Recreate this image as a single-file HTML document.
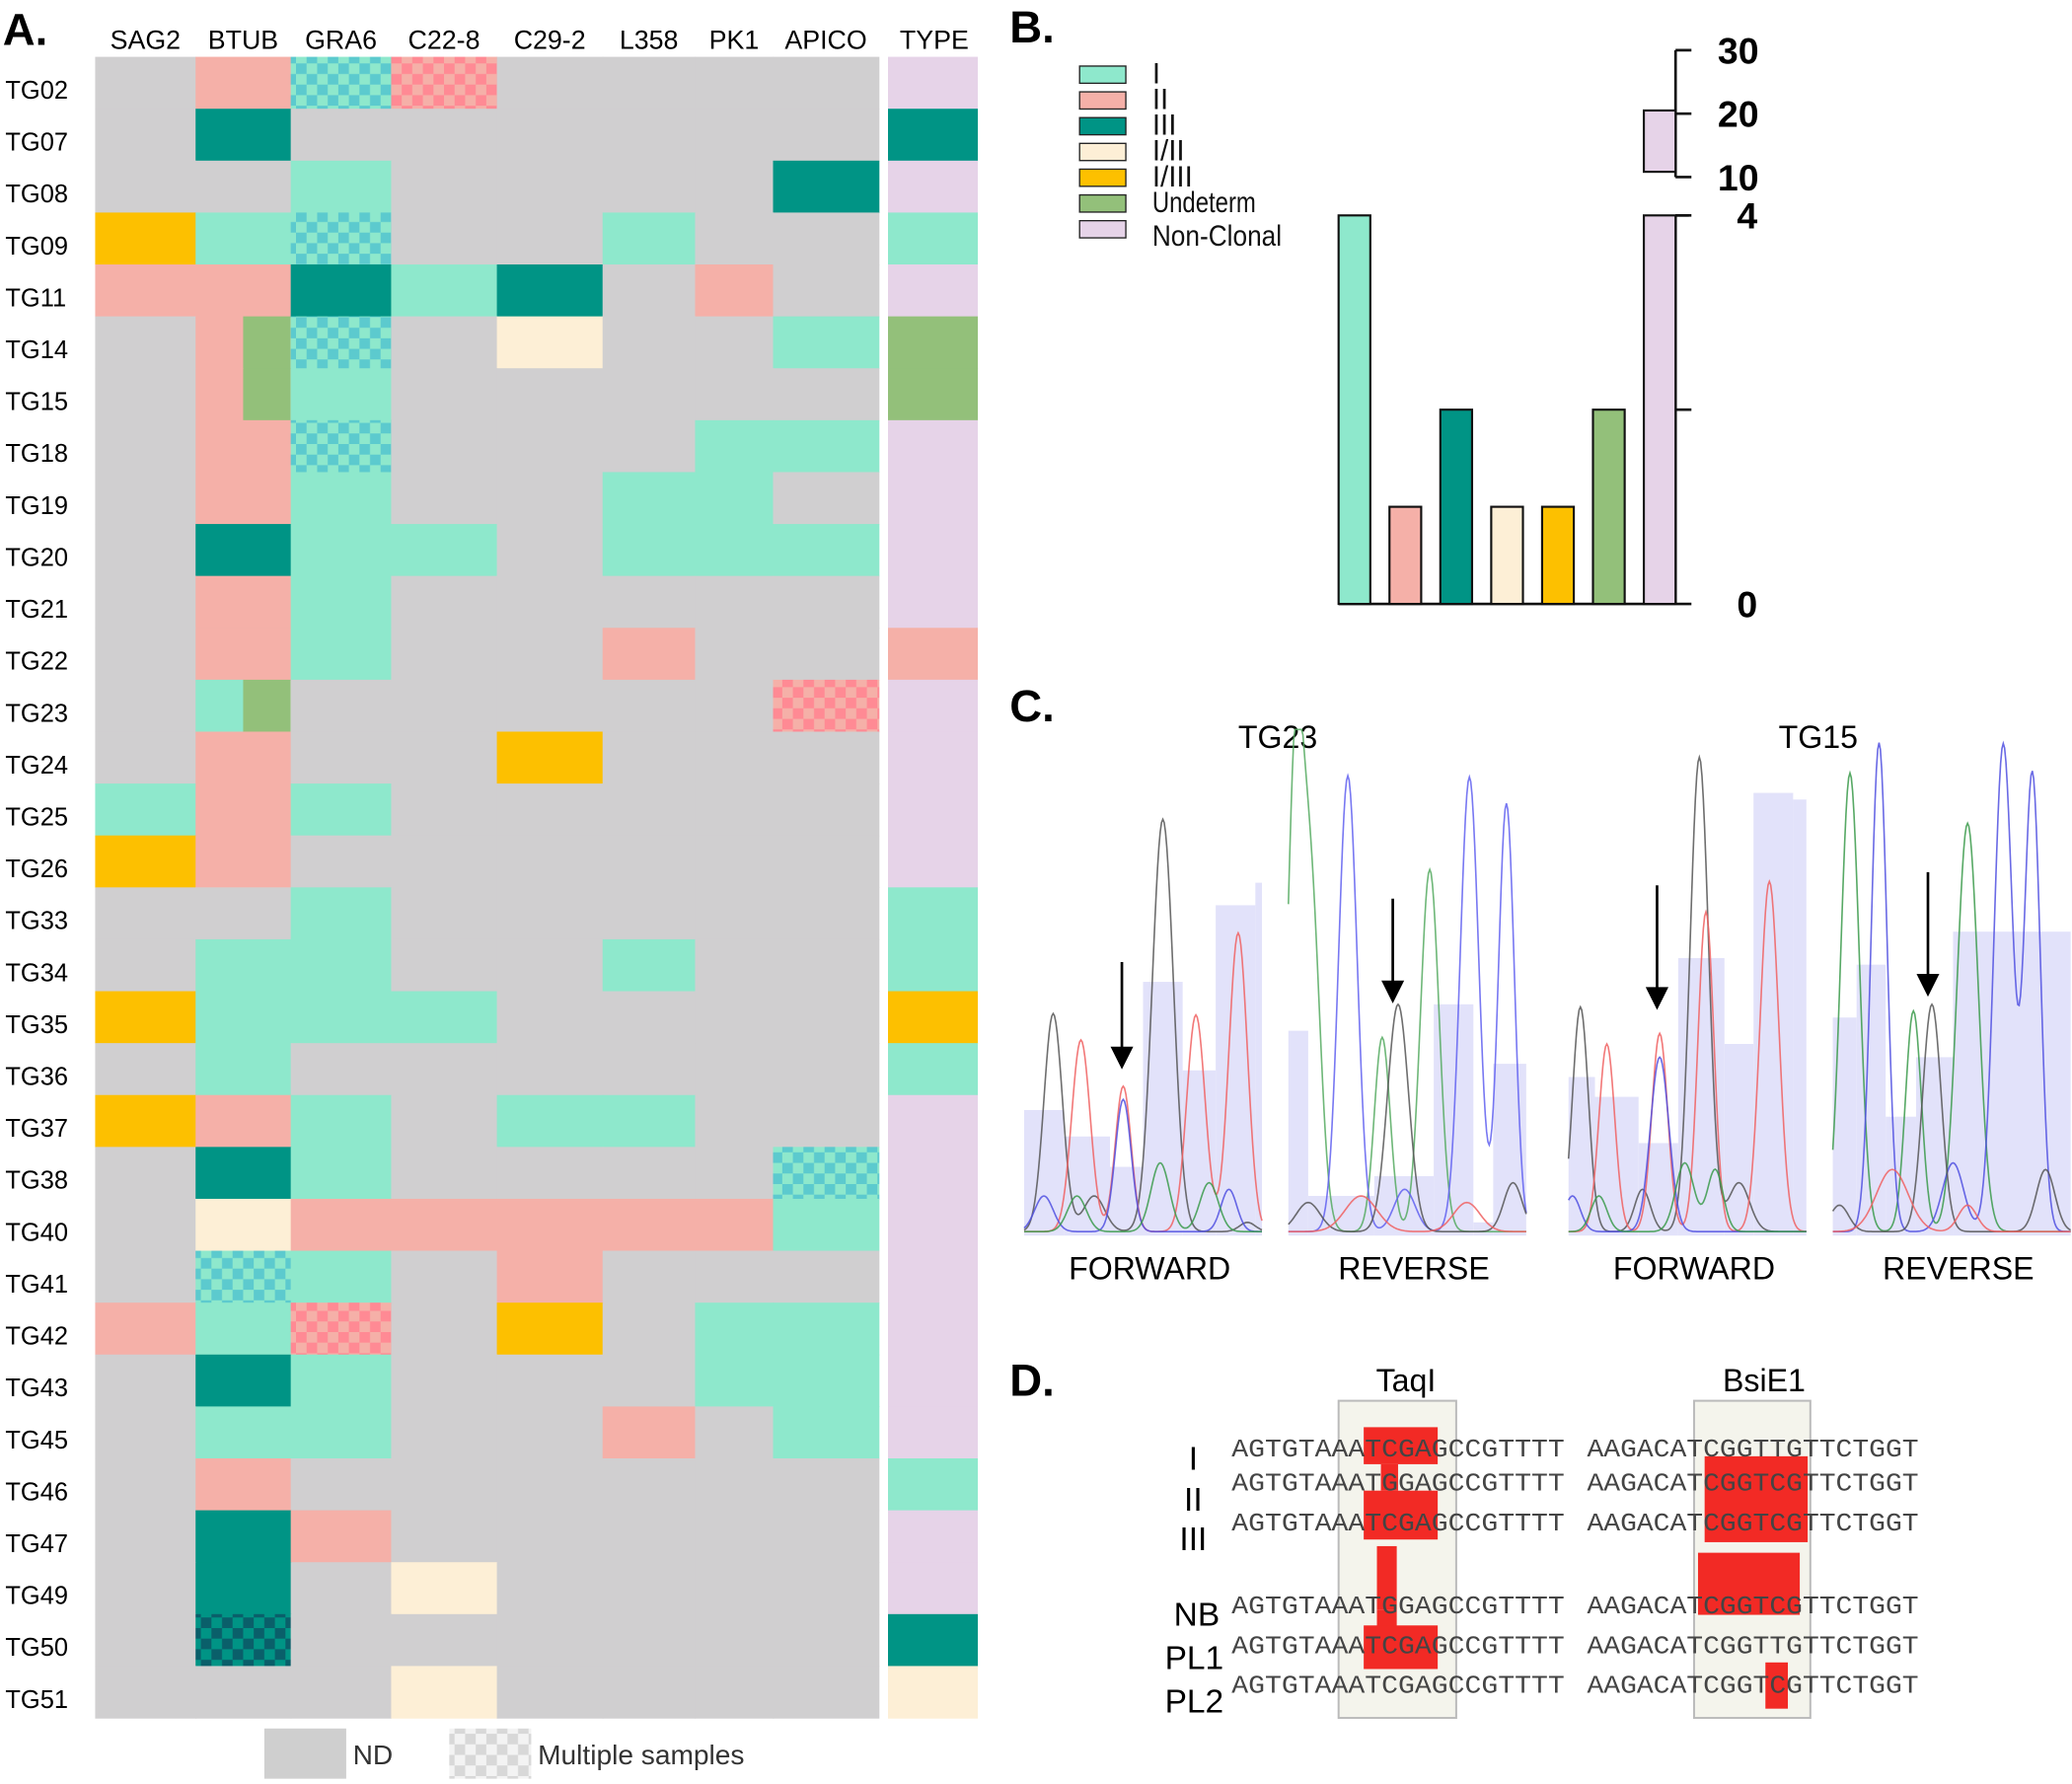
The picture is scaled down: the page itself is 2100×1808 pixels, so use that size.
<!DOCTYPE html>
<html><head><meta charset="utf-8"><style>
html,body{margin:0;padding:0;background:#fff;}
svg{display:block;}
text{font-family:"Liberation Sans",sans-serif;}
.mono{font-family:"Liberation Mono","DejaVu Sans Mono",monospace;fill:#444;}
</style></head><body>
<svg id="fig" width="2100" height="1808" viewBox="0 0 1568 1350" xmlns="http://www.w3.org/2000/svg">
<defs>
<pattern id="ck1" width="16" height="16" patternUnits="userSpaceOnUse"><rect width="16" height="16" fill="#8ee8cc"/><rect width="8" height="8" fill="#5ccace"/><rect x="8" y="8" width="8" height="8" fill="#5ccace"/></pattern>
<pattern id="ck2" width="16" height="16" patternUnits="userSpaceOnUse"><rect width="16" height="16" fill="#f5b0a8"/><rect width="8" height="8" fill="#ff8a94"/><rect x="8" y="8" width="8" height="8" fill="#ff8a94"/></pattern>
<pattern id="ck3" width="16" height="16" patternUnits="userSpaceOnUse"><rect width="16" height="16" fill="#009485"/><rect width="8" height="8" fill="#0a5f6a"/><rect x="8" y="8" width="8" height="8" fill="#0a5f6a"/></pattern>
<pattern id="ckg" width="16" height="16" patternUnits="userSpaceOnUse"><rect width="16" height="16" fill="#f3f3f3"/><rect width="8" height="8" fill="#d8d8d8"/><rect x="8" y="8" width="8" height="8" fill="#d8d8d8"/></pattern>
</defs>
<g id="panelA"></g>
<g id="panelB"></g>
<g id="panelC"></g>
<g id="panelD"></g>
</svg>
<script>
const loci=["SAG2","BTUB","GRA6","C22-8","C29-2","L358","PK1","APICO"];
const samples=["TG02","TG07","TG08","TG09","TG11","TG14","TG15","TG18","TG19","TG20","TG21","TG22","TG23","TG24","TG25","TG26","TG33","TG34","TG35","TG36","TG37","TG38","TG40","TG41","TG42","TG43","TG45","TG46","TG47","TG49","TG50","TG51"];
const genotypes=[
"g 2 c1 c2 g g g g","g 3 g g g g g g","g g 1 g g g g 3","5 1 c1 g g 1 g g","2 2 3 1 3 g 2 g",
"g 2u c1 g 4 g g 1","g 2u 1 g g g g g","g 2 c1 g g g 1 1","g 2 1 g g 1 1 g","g 3 1 1 g 1 1 1",
"g 2 1 g g g g g","g 2 1 g g 2 g g","g 1u g g g g g c2","g 2 g g 5 g g g","1 2 1 g g g g g",
"5 2 g g g g g g","g g 1 g g g g g","g 1 1 g g 1 g g","5 1 1 1 g g g g","g 1 g g g g g g",
"5 2 1 g 1 1 g g","g 3 1 g g g g c1","g 4 2 2 2 2 2 1","g c1 1 g 2 g g g","2 1 c2 g 5 g 1 1",
"g 3 1 g g g 1 1","g 1 1 g g 2 g 1","g 2 g g g g g g","g 3 2 g g g g g","g 3 g 4 g g g g",
"g c3 g g g g g g","g g g 4 g g g g"];
const types=["n","3","n","1","n","u","u","n","n","n","n","2","n","n","n","n","1","1","5","1","n","n","n","n","n","n","n","1","n","n","3","4"];
const typeCats=["I","II","III","I/II","I/III","Undeterm","Non-Clonal"];
const typeCounts=[4,1,2,1,1,2,20.5];
const yTicksLow=[0,2,4];
const yTicksHigh=[10,20,30];
const yTickLabelsLow=["0","","4"];

const NS="http://www.w3.org/2000/svg";
function el(tag,attrs,parent,txt){const e=document.createElementNS(NS,tag);for(const k in attrs)e.setAttribute(k,attrs[k]);if(txt!==undefined)e.textContent=txt;parent.appendChild(e);return e;}
const col={g:"#d0cfd0","1":"#8ee8cc","2":"#f5b0a8","3":"#009485","4":"#fdefd6","5":"#fdc000",u:"#93c07a",n:"#e6d3e8",c1:"url(#ck1)",c2:"url(#ck2)",c3:"url(#ck3)"};

// Panel A
const A=document.getElementById("panelA");
const colX=[72,148,220,296,376,456,526,585,665];
const rowTop=43,rowH=(1300-43)/samples.length;
function rowY(i){return rowTop+i*rowH;}
let t=el("text",{x:2,y:34,"font-size":34,"font-weight":"bold"},A,"A.");

loci.forEach((l,j)=>{const h=el("text",{x:(colX[j]+colX[j+1])/2,y:37,"font-size":20,"text-anchor":"middle"},A,l);
});
let th=el("text",{x:707,y:37,"font-size":20,"text-anchor":"middle"},A,"TYPE");

samples.forEach((s,i)=>{
 const y=rowY(i);
 const lb=el("text",{x:4,y:y+rowH/2+12,"font-size":19},A,s);
 
 genotypes[i].split(" ").forEach((c,j)=>{
  const x0=colX[j],w=colX[j+1]-colX[j];
  if(c.endsWith("u")){
   const r1=el("rect",{x:x0,y:y,width:w/2+0.5,height:rowH+0.5,fill:col[c[0]]},A);
   
   const r2=el("rect",{x:x0+w/2,y:y,width:w/2,height:rowH+0.5,fill:col.u},A);
   
  } else {
   const r=el("rect",{x:x0,y:y,width:w+0.5,height:rowH+0.5,fill:col[c]},A);
   
  }
 });
 const tr=el("rect",{x:672,y:y,width:68,height:rowH+0.5,fill:col[types[i]]},A);
 
});
let r=el("rect",{x:200,y:1308,width:62,height:38,fill:"#cfcfcf"},A);

t=el("text",{x:267,y:1335,"font-size":21,fill:"#333"},A,"ND");

r=el("rect",{x:340,y:1308,width:62,height:38,fill:"url(#ckg)"},A);

t=el("text",{x:407,y:1335,"font-size":21,fill:"#333"},A,"Multiple samples");


// Panel B
const B=document.getElementById("panelB");
t=el("text",{x:764,y:32,"font-size":34,"font-weight":"bold"},B,"B.");

const legCols=["#8ee8cc","#f5b0a8","#009485","#fdefd6","#fdc000","#93c07a","#e6d3e8"];
typeCats.forEach((c,i)=>{
 const y=50+i*19.5;
 const s=el("rect",{x:817,y:y,width:35,height:13,fill:legCols[i],stroke:"#222","stroke-width":1},B);
 
 const l=el("text",{x:872,y:y+13+(i==6?6:0),"font-size":22,fill:"#111"},B,c);
 if(c.length>5){l.setAttribute("textLength",c.length*9.8);l.setAttribute("lengthAdjust","spacingAndGlyphs");}
 
});
const y0=457,y4=163;
function yLow(v){return y0-(y0-y4)*v/4;}
function yHigh(v){return 134-(v-10)*(134-38)/20;}
const axX=1268;
let ax=el("path",{d:`M${axX} ${y4} V${y0} M${axX} ${y4} H${axX+10} M${axX} 38 V134`,stroke:"#111","stroke-width":2,fill:"none"},B);

let bl=el("line",{x1:1013,x2:axX,y1:y0,y2:y0,stroke:"#111","stroke-width":2},B);

yTicksLow.forEach((v,i)=>{const y=yLow(v);
 const k=el("line",{x1:axX,x2:axX+12,y1:y,y2:y,stroke:"#111","stroke-width":2},B);
 
 if(yTickLabelsLow[i]){const l=el("text",{x:axX+62,y:y+10,"font-size":28,"font-weight":"bold","text-anchor":"end"},B,yTickLabelsLow[i]);
 }
});
yTicksHigh.forEach(v=>{const y=yHigh(v);
 const k=el("line",{x1:axX,x2:axX+12,y1:y,y2:y,stroke:"#111","stroke-width":2},B);
 
 const l=el("text",{x:axX+63,y:y+10,"font-size":28,"font-weight":"bold","text-anchor":"end"},B,String(v));
 
});
typeCounts.forEach((v,i)=>{
 const x=1013+i*38.5;
 if(v<=4){
  const b=el("rect",{x:x,y:yLow(v),width:24,height:y0-yLow(v),fill:legCols[i],stroke:"#111","stroke-width":1.6},B);
  
 } else {
  const b=el("rect",{x:x,y:y4,width:24,height:y0-y4,fill:legCols[i],stroke:"#111","stroke-width":1.6},B);
  
  const b2=el("rect",{x:x,y:yHigh(v),width:24,height:yHigh(10)-4-yHigh(v),fill:legCols[i],stroke:"#111","stroke-width":1.6},B);
  
 }
});

// Panel C
const C=document.getElementById("panelC");
t=el("text",{x:764,y:546,"font-size":34,"font-weight":"bold"},C,"C.");

[["TG23",967],["TG15",1376]].forEach(([s,x])=>{const l=el("text",{x:x,y:566,"font-size":24,"text-anchor":"middle"},C,s);
 });
const panels=[
 {x0:775,x1:955,lab:"FORWARD",arrow:[849,728,805],
  blocks:[[775,840],[805,860],[840,883],[865,743],[895,810],[920,685],[950,668]],
  peaks:{"#555":[[797,767,7],[880,620,8],[828,905,8],[944,925,6]],"#f06060":[[818,787,7],[850,822,6],[905,768,7],[937,706,7]],"#5050e0":[[790,905,7],[850,832,6],[930,900,6]],"#3a9a4a":[[815,905,7],[878,880,7],[915,895,7]]}},
 {x0:975,x1:1155,lab:"REVERSE",arrow:[1054,680,755],
  blocks:[[975,780],[990,905],[1040,890],[1085,760],[1115,925],[1130,805]],
  peaks:{"#55aa60":[[980,600,6],[992,680,7],[1082,658,7],[1046,785,6]],"#6060f0":[[1020,587,7],[1112,588,7],[1140,608,6],[1063,900,8]],"#555":[[1058,760,8],[1145,895,7],[990,910,9]],"#f06060":[[1030,905,12],[1110,910,10]]}},
 {x0:1187,x1:1367,lab:"FORWARD",arrow:[1254,670,760],
  blocks:[[1187,815],[1207,830],[1240,865],[1270,725],[1305,790],[1327,600],[1357,605]],
  peaks:{"#555":[[1196,762,6],[1243,900,6],[1286,573,7],[1316,895,8]],"#f06060":[[1216,790,6],[1256,782,6],[1291,690,6],[1339,667,7]],"#5050e0":[[1190,905,6],[1256,800,7]],"#3a9a4a":[[1210,905,6],[1275,880,7],[1298,885,6]]}},
 {x0:1387,x1:1567,lab:"REVERSE",arrow:[1459,660,750],
  blocks:[[1387,770],[1405,730],[1427,845],[1450,800],[1478,705]],
  peaks:{"#3a9a4a":[[1400,585,7],[1448,765,6],[1489,623,8]],"#5050e0":[[1422,562,6],[1516,563,7],[1538,586,6],[1478,880,8]],"#555":[[1462,760,7],[1392,912,7],[1548,885,7]],"#f06060":[[1432,885,12],[1489,912,7]]}}
];
panels.forEach((p,pi)=>{
 const g=el("g",{},C);
 p.blocks.forEach((b,k)=>{const xe=k+1<p.blocks.length?p.blocks[k+1][0]:p.x1;
  const rr=el("rect",{x:b[0],y:b[1],width:xe-b[0],height:935-b[1],fill:"#e2e2fa"},g);
  });
 for(const c in p.peaks){
  let d="";for(let x=p.x0;x<=p.x1;x+=1){let s=0;p.peaks[c].forEach(([cx,top,w])=>{s+=(932-top)*Math.exp(-((x-cx)*(x-cx))/(2*w*w));});
   d+=(x==p.x0?"M":"L")+x+" "+(932-Math.min(s,380)).toFixed(1);}
  const pa=el("path",{d:d,stroke:c,"stroke-width":1.2,fill:"none",opacity:0.85},g);
  
 }
 const [axx,ay1,ay2]=p.arrow;
 const ar=el("path",{d:`M${axx} ${ay1} V${ay2} M${axx-7} ${ay2-12} L${axx} ${ay2+2} L${axx+7} ${ay2-12} Z`,stroke:"#000","stroke-width":2,fill:"#000"},g);
 
 const l=el("text",{x:(p.x0+p.x1)/2+5,y:968,"font-size":24,"text-anchor":"middle"},g,p.lab);
 
});

// Panel D
const D=document.getElementById("panelD");
t=el("text",{x:764,y:1056,"font-size":34,"font-weight":"bold"},D,"D.");

[["TaqI",1064],["BsiE1",1335]].forEach(([s,x])=>{const l=el("text",{x:x,y:1053,"font-size":24,"text-anchor":"middle"},D,s);
 });
[[1013,1102],[1282,1370]].forEach(([a,b],i)=>{const rr=el("rect",{x:a,y:1060,width:b-a,height:240,fill:"#f4f4ec",stroke:"#bbb","stroke-width":1.5},D);
 });
const reds=[[1032,1080,1088,1108],[1045,1108,1058,1128],[1032,1128,1088,1165],[1290,1102,1368,1167],[1042,1170,1057,1218],[1285,1175,1362,1222],[1042,1218,1057,1232],[1032,1230,1088,1263],[1336,1258,1353,1293]];
reds.forEach(q=>{const rr=el("rect",{x:q[0],y:q[1],width:q[2]-q[0],height:q[3]-q[1],fill:"#f22a25"},D);
 });
const seqL=["AGTGTAAATCGAGCCGTTTT","AGTGTAAATGGAGCCGTTTT","AGTGTAAATCGAGCCGTTTT","AGTGTAAATGGAGCCGTTTT","AGTGTAAATCGAGCCGTTTT","AGTGTAAATCGAGCCGTTTT"];
const seqR=["AAGACATCGGTTGTTCTGGT","AAGACATCGGTCGTTCTGGT","AAGACATCGGTCGTTCTGGT","AAGACATCGGTCGTTCTGGT","AAGACATCGGTTGTTCTGGT","AAGACATCGGTCGTTCTGGT"];
const seqY=[1102,1128,1158,1221,1251,1281];
seqY.forEach((y,i)=>{
 const a=el("text",{x:932,y:y,"font-size":19,class:"mono",textLength:252,lengthAdjust:"spacingAndGlyphs"},D,seqL[i]);
 
 const b=el("text",{x:1201,y:y,"font-size":19,class:"mono",textLength:251,lengthAdjust:"spacingAndGlyphs"},D,seqR[i]);
 
});
[["I",903,1112,"middle"],["II",903,1143,"middle"],["III",903,1173,"middle"],["NB",923,1230,"end"],["PL1",926,1263,"end"],["PL2",926,1296,"end"]].forEach(([s,x,y,an])=>{
 const l=el("text",{x:x,y:y,"font-size":25,"text-anchor":an},D,s);
 
});
</script>
</body></html>
